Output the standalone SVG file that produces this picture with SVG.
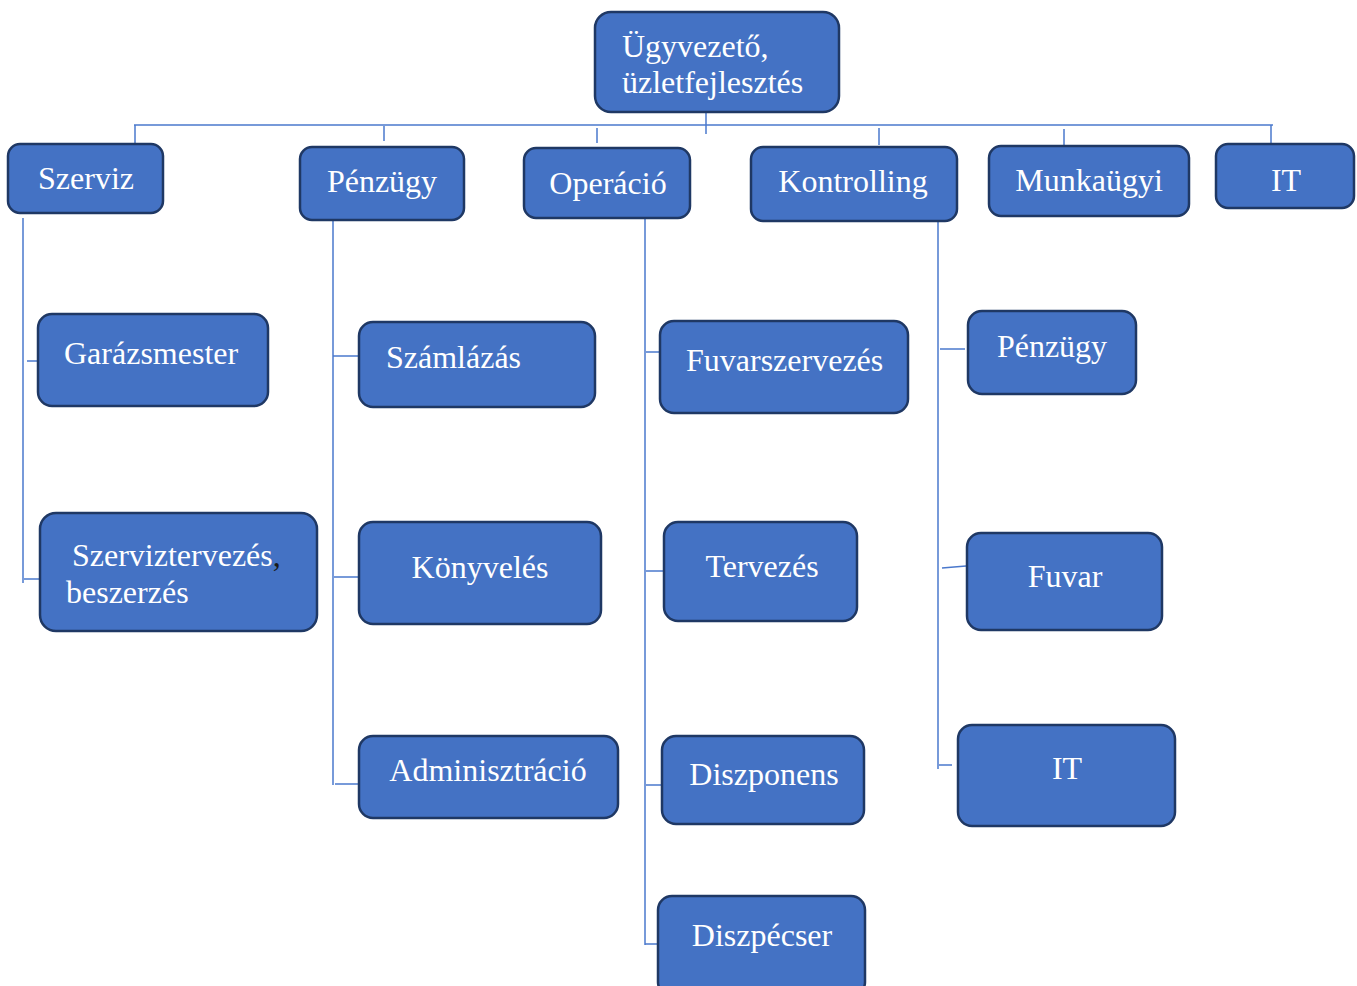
<svg xmlns="http://www.w3.org/2000/svg" width="1357" height="986" viewBox="0 0 1357 986">
<style>
.box{fill:#4472C4;stroke:#1F3864;stroke-width:2.5}
.t{font-family:"Liberation Serif","Times New Roman",serif;font-size:32px;fill:#ffffff}
.c{stroke:#4A78CC;stroke-width:1.5;fill:none}
</style>
<rect width="1357" height="986" fill="#ffffff"/>
<g id="connectors">
<path class="c" d="M706 113V134"/>
<path class="c" d="M134 125H1273"/>
<path class="c" d="M135 125V143"/>
<path class="c" d="M384 126V141"/>
<path class="c" d="M597 128V143"/>
<path class="c" d="M879 128V145"/>
<path class="c" d="M1064 129V145"/>
<path class="c" d="M1271 125V144"/>
<path class="c" d="M23 218V583"/>
<path class="c" d="M27 361H38"/>
<path class="c" d="M24 579H40"/>
<path class="c" d="M333 221V785"/>
<path class="c" d="M333 356H358"/>
<path class="c" d="M334 577H358"/>
<path class="c" d="M335 784H359"/>
<path class="c" d="M645 218V945"/>
<path class="c" d="M646 352H660"/>
<path class="c" d="M646 571H664"/>
<path class="c" d="M646 785H662"/>
<path class="c" d="M645 944H658"/>
<path class="c" d="M938 221V769"/>
<path class="c" d="M940 349H965"/>
<path class="c" d="M942 568L966 566"/>
<path class="c" d="M939 765H952"/>
</g>
<g id="n-root"><rect class="box" x="595" y="12" width="244" height="100" rx="16"/><text class="t" x="622" y="57">Ügyvezető,</text><text class="t" x="622" y="93">üzletfejlesztés</text></g>
<g id="n-szerviz"><rect class="box" x="8" y="144" width="155" height="69" rx="12"/><text class="t" x="86" y="189" text-anchor="middle">Szerviz</text></g>
<g id="n-penzugy"><rect class="box" x="300" y="147" width="164" height="73" rx="12"/><text class="t" x="382" y="192" text-anchor="middle">Pénzügy</text></g>
<g id="n-operacio"><rect class="box" x="524" y="148" width="166" height="70" rx="12"/><text class="t" x="608" y="194" text-anchor="middle">Operáció</text></g>
<g id="n-kontrolling"><rect class="box" x="751" y="147" width="206" height="74" rx="12"/><text class="t" x="853" y="192" text-anchor="middle">Kontrolling</text></g>
<g id="n-munkaugyi"><rect class="box" x="989" y="146" width="200" height="70" rx="12"/><text class="t" x="1089" y="191" text-anchor="middle">Munkaügyi</text></g>
<g id="n-it"><rect class="box" x="1216" y="144" width="138" height="64" rx="12"/><text class="t" x="1286" y="191" text-anchor="middle">IT</text></g>
<g id="n-garazsmester"><rect class="box" x="38" y="314" width="230" height="92" rx="14"/><text class="t" x="64" y="364">Garázsmester</text></g>
<g id="n-szerviztervezes"><rect class="box" x="40" y="513" width="277" height="118" rx="16"/><text class="t" x="72" y="566">Szerviztervezés<tspan fill="#1a1a1a">,</tspan></text><text class="t" x="66" y="603">beszerzés</text></g>
<g id="n-szamlazas"><rect class="box" x="359" y="322" width="236" height="85" rx="14"/><text class="t" x="386" y="368">Számlázás</text></g>
<g id="n-konyveles"><rect class="box" x="359" y="522" width="242" height="102" rx="14"/><text class="t" x="480" y="578" text-anchor="middle">Könyvelés</text></g>
<g id="n-adminisztracio"><rect class="box" x="359" y="736" width="259" height="82" rx="14"/><text class="t" x="488" y="781" text-anchor="middle">Adminisztráció</text></g>
<g id="n-fuvarszervezes"><rect class="box" x="660" y="321" width="248" height="92" rx="14"/><text class="t" x="686" y="371">Fuvarszervezés</text></g>
<g id="n-tervezes"><rect class="box" x="664" y="522" width="193" height="99" rx="14"/><text class="t" x="762" y="577" text-anchor="middle">Tervezés</text></g>
<g id="n-diszponens"><rect class="box" x="662" y="736" width="202" height="88" rx="14"/><text class="t" x="764" y="785" text-anchor="middle">Diszponens</text></g>
<g id="n-diszpecser"><rect class="box" x="658" y="896" width="207" height="100" rx="14"/><text class="t" x="762" y="946" text-anchor="middle">Diszpécser</text></g>
<g id="n-k-penzugy"><rect class="box" x="968" y="311" width="168" height="83" rx="14"/><text class="t" x="1052" y="357" text-anchor="middle">Pénzügy</text></g>
<g id="n-fuvar"><rect class="box" x="967" y="533" width="195" height="97" rx="14"/><text class="t" x="1065" y="587" text-anchor="middle">Fuvar</text></g>
<g id="n-k-it"><rect class="box" x="958" y="725" width="217" height="101" rx="14"/><text class="t" x="1067" y="779" text-anchor="middle">IT</text></g>
</svg>
